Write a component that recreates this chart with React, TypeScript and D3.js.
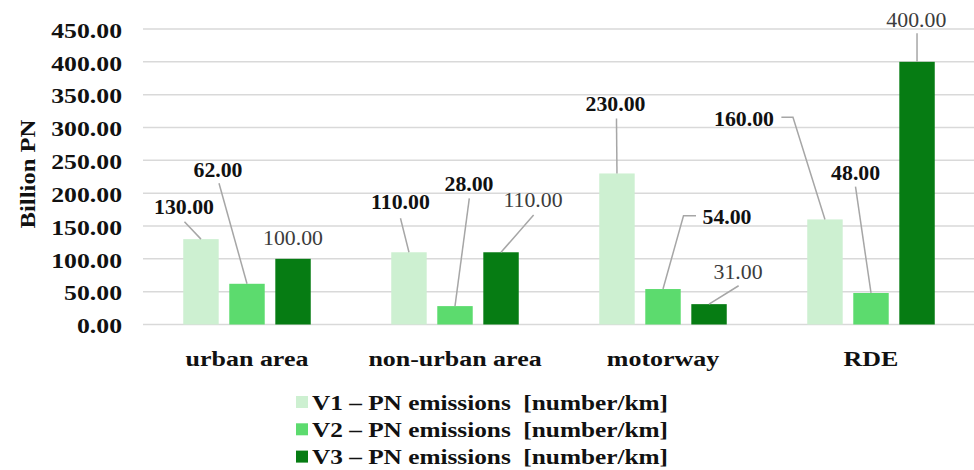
import React from "react";
import * as d3 from "d3";

// Driving-cycle sections and PN emissions per vehicle (billion particles / km)
const categories = ["urban area", "non-urban area", "motorway", "RDE"];
const seriesNames = [
  "V1 \u2013 PN emissions  [number/km]",
  "V2 \u2013 PN emissions  [number/km]",
  "V3 \u2013 PN emissions  [number/km]",
];
const v1Values = [130, 110, 230, 160];
const v2Values = [62, 28, 54, 48];
const v3Values = [100, 110, 31, 400];
const yTicks = [0, 50, 100, 150, 200, 250, 300, 350, 400, 450];

const colors = ["#cdf0d1", "#5cdb6e", "#067c13"];
const labelColors = ["#111111", "#111111", "#3c3c3c"];
const labelWeights = ["bold", "bold", "normal"];

// Label placement relative to the top-centre of each bar (px):
// text offset plus leader-line points; an empty list means no leader line.
type Placement = { tx: number; ty: number; pts: [number, number][] };
const placements: Placement[][] = [
  // urban area
  [
    { tx: -17, ty: -32, pts: [[-16.5, -17.4]] },
    { tx: -29, ty: -114, pts: [[-28, -100.5]] },
    { tx: 0, ty: -21, pts: [] },
  ],
  // non-urban area
  [
    { tx: -8.5, ty: -50, pts: [[-8.5, -34]] },
    { tx: 14, ty: -122.6, pts: [[14.3, -107.8]] },
    { tx: 32, ty: -52, pts: [[32.6, -37.3]] },
  ],
  // motorway
  [
    { tx: -1.5, ty: -69, pts: [[-0.5, -55]] },
    { tx: 64, ty: -71.7, pts: [[33, -73.3], [20.5, -73.3]] },
    { tx: 29, ty: -32, pts: [[29.6, -18.4]] },
  ],
  // RDE
  [
    { tx: -81, ty: -100.7, pts: [[-43.6, -102.1], [-32, -102.1]] },
    { tx: -15.4, ty: -120, pts: [[-15.5, -106.3]] },
    { tx: -0.7, ty: -41.8, pts: [[0, -28.5]] },
  ],
];

const W = 974;
const H = 470;
const plotLeft = 143;
const plotRight = 975;
const plotTop = 29;
const plotBottom = 324.5;
const FONT = '"Liberation Serif", "Times New Roman", Times, serif';

// Text drawn with a wide, condensed-to-expanded horizontal scale around its anchor.
function WideText(props: {
  x: number;
  y: number;
  sx: number;
  size: number;
  anchor?: "start" | "middle" | "end";
  weight?: string;
  fill?: string;
  rotate?: number;
  children: React.ReactNode;
}) {
  const { x, y, sx, size, anchor = "start", weight = "bold", fill = "#111", rotate = 0 } = props;
  return (
    <text
      transform={`translate(${x},${y}) rotate(${rotate}) scale(${sx},1)`}
      dy="0.35em"
      textAnchor={anchor}
      fontSize={size}
      fontWeight={weight}
      fill={fill}
      style={{ fontFamily: FONT, whiteSpace: "pre" }}
    >
      {props.children}
    </text>
  );
}

export default function App() {
  const series = [v1Values, v2Values, v3Values];

  const x = d3.scaleBand<string>().domain(categories).range([plotLeft, plotRight]);
  const groupWidth = 127.5;
  const inner = d3
    .scaleBand<number>()
    .domain([0, 1, 2])
    .range([0, groupWidth])
    .paddingInner(0.23);
  const groupOffset = (x.bandwidth() - groupWidth) / 2;
  const y = d3.scaleLinear().domain([0, 450]).range([plotBottom, plotTop]);
  const fmt = d3.format(".2f");

  return (
    <svg
      width={W}
      height={H}
      style={{ position: "absolute", left: 0, top: 0, background: "#fff", fontFamily: FONT }}
    >
      {/* gridlines */}
      {yTicks.map((t) => (
        <line
          key={t}
          x1={plotLeft}
          x2={plotRight}
          y1={y(t)}
          y2={y(t)}
          stroke="#d9d9d9"
          strokeWidth={1.5}
        />
      ))}

      {/* y tick labels */}
      {yTicks.map((t) => (
        <WideText key={t} x={122} y={y(t) + 1} sx={1.17} size={22} anchor="end">
          {fmt(t)}
        </WideText>
      ))}

      {/* y axis title */}
      <WideText x={27} y={174} sx={1.12} size={22} anchor="middle" rotate={-90}>
        Billion PN
      </WideText>

      {/* bars */}
      {categories.map((c, ci) =>
        series.map((vals, si) => {
          const bx = (x(c) as number) + groupOffset + (inner(si) as number);
          return (
            <rect
              key={`${c}-${si}`}
              x={bx}
              y={y(vals[ci])}
              width={inner.bandwidth()}
              height={plotBottom - y(vals[ci])}
              fill={colors[si]}
            />
          );
        })
      )}

      {/* leader lines and value labels */}
      {categories.map((c, ci) =>
        series.map((vals, si) => {
          const cx =
            (x(c) as number) + groupOffset + (inner(si) as number) + inner.bandwidth() / 2;
          const cy = y(vals[ci]);
          const p = placements[ci][si];
          const linePts: [number, number][] = [
            ...p.pts.map(([dx, dy]) => [cx + dx, cy + dy] as [number, number]),
            [cx, cy],
          ];
          return (
            <g key={`lbl-${c}-${si}`}>
              {p.pts.length > 0 && (
                <path
                  d={d3.line()(linePts) as string}
                  fill="none"
                  stroke="#a6a6a6"
                  strokeWidth={1.5}
                />
              )}
              <WideText
                x={cx + p.tx}
                y={cy + p.ty}
                sx={1.09}
                size={20}
                anchor="middle"
                weight={labelWeights[si]}
                fill={labelColors[si]}
              >
                {fmt(vals[ci])}
              </WideText>
            </g>
          );
        })
      )}

      {/* category labels */}
      {categories.map((c) => (
        <WideText
          key={c}
          x={(x(c) as number) + x.bandwidth() / 2}
          y={358}
          sx={1.18}
          size={22}
          anchor="middle"
        >
          {c}
        </WideText>
      ))}

      {/* legend */}
      {seriesNames.map((name, si) => {
        const ly = 402 + si * 27.3;
        return (
          <g key={name}>
            <rect x={296} y={ly - 6} width={12} height={12} fill={colors[si]} />
            <WideText x={312} y={ly} sx={1.15} size={22}>
              {name}
            </WideText>
          </g>
        );
      })}
    </svg>
  );
}
